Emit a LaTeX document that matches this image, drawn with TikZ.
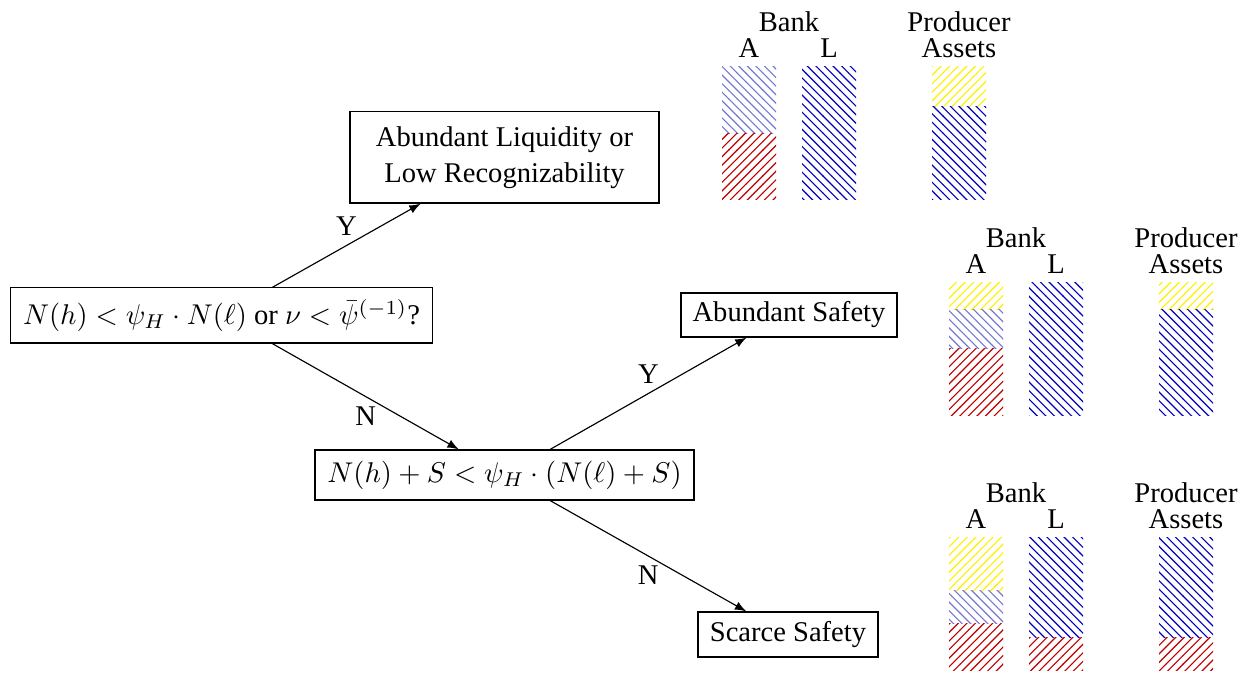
\documentclass[tikz,border=0pt]{standalone}
\usepackage[no-math]{fontspec}
\setmainfont{Liberation Serif}
\usetikzlibrary{patterns,calc,arrows}
\definecolor{hred}{RGB}{190,0,0}
\definecolor{hblue}{RGB}{0,0,190}
\definecolor{hlight}{RGB}{120,120,210}
\definecolor{hyel}{RGB}{255,240,0}
\begin{document}
\begin{tikzpicture}[x=0.35pt,y=-0.35pt,
  box/.style={draw, rectangle, align=center, inner sep=2pt, font=\fontsize{10}{12.4}\selectfont},
  arr/.style={-latex, line width=0.4pt},
  lbl/.style={font=\fontsize{10}{12}\selectfont},
  txt/.style={font=\fontsize{10}{12}\selectfont, inner sep=0pt},
  pr/.style={pattern=north east lines, pattern color=hred},
  pb/.style={pattern=north west lines, pattern color=hblue},
  pl/.style={pattern=north west lines, pattern color=hlight},
  py/.style={pattern=north east lines, pattern color=hyel}]
\useasboundingbox (0,0) rectangle (1248,673);

% decision nodes
\node[box, minimum width=108.2pt, minimum height=31.9pt] (liq) at (504.5,157.5) {Abundant Liquidity or\\Low Recognizability};
\node[box, minimum width=148pt, minimum height=19.3pt] (q1) at (221.5,315.5) {$N(h) < \psi_H \cdot N(\ell)$ or $\nu < \bar{\psi}^{(-1)}$?};
\node[box, minimum width=75.6pt, minimum height=15.4pt] (abs) at (789,315) {Abundant Safety};
\node[box, minimum width=132.7pt, minimum height=17.5pt] (q2) at (504.5,475) {$N(h) + S < \psi_H \cdot (N(\ell) + S)$};
\node[box, minimum width=63pt, minimum height=15.75pt] (scs) at (788,634.5) {Scarce Safety};

% connectors
\draw[arr] ($(q1.north west)!0.62!(q1.north east)$) -- node[lbl, above] {Y} ($(liq.south west)!0.23!(liq.south east)$);
\draw[arr] ($(q1.south west)!0.62!(q1.south east)$) -- node[lbl, below] {N} ($(q2.north west)!0.38!(q2.north east)$);
\draw[arr] ($(q2.north west)!0.62!(q2.north east)$) -- node[lbl, above] {Y} ($(abs.south west)!0.305!(abs.south east)$);
\draw[arr] ($(q2.south west)!0.62!(q2.south east)$) -- node[lbl, below] {N} ($(scs.north west)!0.27!(scs.north east)$);

% balance sheets: group 1
\node[txt] (bank1) at (789,22) {Bank};
\node[txt] (a1) at (749,48) {A};
\node[txt] (l1) at (829,48) {L};
\node[txt] (prod1) at (959,22) {Producer};
\node[txt] (ass1) at (959,48) {Assets};
\fill[pl] (722,67) rectangle (776,134);
\fill[pr] (722,134) rectangle (776,200);
\fill[pb] (802,67) rectangle (856,200);
\fill[py] (932,67) rectangle (986,107);
\fill[pb] (932,107) rectangle (986,200);

% group 2
\node[txt] (bank2) at (1016,238) {Bank};
\node[txt] (a2) at (976,264) {A};
\node[txt] (l2) at (1056,264) {L};
\node[txt] (prod2) at (1186,238) {Producer};
\node[txt] (ass2) at (1186,264) {Assets};
\fill[py] (949,283) rectangle (1003,310);
\fill[pl] (949,310) rectangle (1003,349);
\fill[pr] (949,349) rectangle (1003,416);
\fill[pb] (1029,283) rectangle (1083,416);
\fill[py] (1159,283) rectangle (1213,310);
\fill[pb] (1159,310) rectangle (1213,416);

% group 3
\node[txt] (bank3) at (1016,493) {Bank};
\node[txt] (a3) at (976,519) {A};
\node[txt] (l3) at (1056,519) {L};
\node[txt] (prod3) at (1186,493) {Producer};
\node[txt] (ass3) at (1186,519) {Assets};
\fill[py] (949,538) rectangle (1003,591);
\fill[pl] (949,591) rectangle (1003,624);
\fill[pr] (949,624) rectangle (1003,671);
\fill[pb] (1029,538) rectangle (1083,638);
\fill[pr] (1029,638) rectangle (1083,671);
\fill[pb] (1159,538) rectangle (1213,638);
\fill[pr] (1159,638) rectangle (1213,671);
\end{tikzpicture}
\end{document}
